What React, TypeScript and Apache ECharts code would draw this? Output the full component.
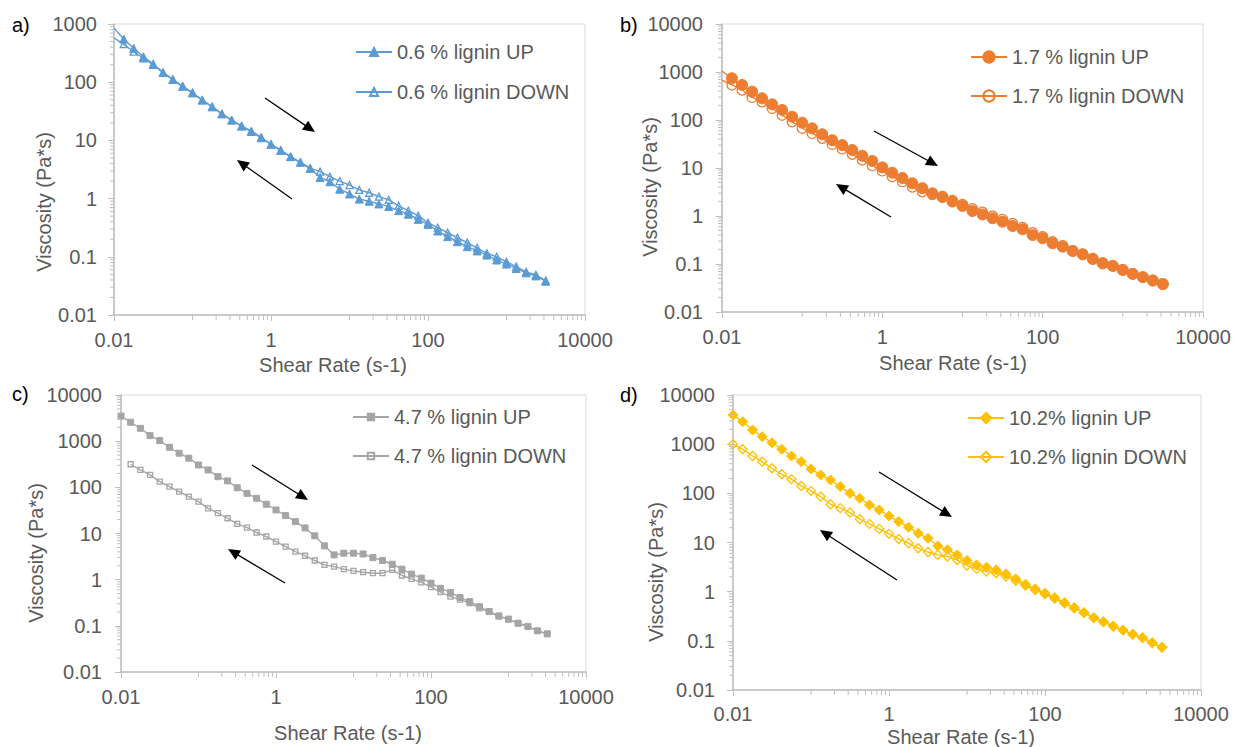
import React, { useEffect, useRef } from "react";
import * as echarts from "echarts";

// ---- data ----
const shearRate = [
  0.01, 0.0133, 0.0178, 0.0237, 0.0316, 0.0422, 0.0562, 0.075, 0.1, 0.133, 0.178, 0.237, 0.316, 0.422, 0.562, 0.75,
  1, 1.33, 1.78, 2.37, 3.16, 4.22, 5.62, 7.5, 10, 13.3, 17.8, 23.7, 31.6, 42.2, 56.2, 75,
  100, 133, 178, 237, 316, 422, 562, 750, 1000, 1330, 1780, 2370, 3160,
];

const upA = [
  850, 552, 382, 274, 206, 146, 112, 86, 66, 49.5, 38, 28.5, 22.4, 17.7, 14.5, 11.3,
  8.6, 6.8, 5.25, 4.2, 3.3, 2.3, 1.95, 1.45, 1.2, 0.98, 0.9, 0.81, 0.73, 0.62, 0.54, 0.44,
  0.36, 0.277, 0.222, 0.182, 0.149, 0.126, 0.107, 0.088, 0.075, 0.063, 0.053, 0.047, 0.038,
];
const downA = [
  575, 450, 334, 258, 198, 146, 110, 84, 65, 49, 37.5, 28.5, 22, 17.5, 14, 11,
  8.5, 6.7, 5.2, 4.2, 3.3, 2.9, 2.38, 2.0, 1.71, 1.41, 1.26, 1.08, 0.95, 0.75, 0.62, 0.51,
  0.385, 0.316, 0.26, 0.213, 0.175, 0.143, 0.115, 0.1, 0.082, 0.068, 0.055, 0.049, 0.039,
];

const upB = [
  1050, 740, 537, 390, 283, 212, 162, 117, 88, 67, 50.5, 38, 30, 23.7, 18, 14,
  10.3, 8, 6.2, 4.8, 3.8, 2.97, 2.52, 2.0, 1.62, 1.27, 1.08, 0.9, 0.76, 0.62, 0.53, 0.4,
  0.343, 0.27, 0.23, 0.186, 0.159, 0.127, 0.103, 0.091, 0.075, 0.062, 0.053, 0.045, 0.038,
];
const downB = [
  680, 537, 422, 296, 240, 174, 126, 92, 67.5, 52.5, 41.5, 31, 25, 19.3, 14.7, 11.2,
  8.7, 6.6, 5.2, 4.0, 3.2, 2.8, 2.45, 2.1, 1.75, 1.42, 1.2, 1.0, 0.85, 0.7, 0.58, 0.45,
  0.37, 0.29, 0.24, 0.19, 0.16, 0.13, 0.106, 0.092, 0.076, 0.063, 0.054, 0.046, 0.039,
];

const upC = [
  3500, 2570, 1900, 1320, 1030, 738, 548, 428, 305, 238, 170, 138, 98, 74, 58, 43,
  32.4, 24.4, 18.1, 13.2, 8.9, 5.4, 3.44, 3.74, 3.74, 3.6, 3.0, 2.6, 2.16, 1.69, 1.32, 1.08,
  0.84, 0.65, 0.53, 0.41, 0.336, 0.26, 0.204, 0.164, 0.14, 0.114, 0.097, 0.078, 0.067,
];
// DOWN sweep of panel c starts at the second shear rate
const downC = [
  316, 238, 186, 133, 104, 81, 63, 49, 35, 27.5, 21.4, 16.1, 13.4, 10.5, 8.6,
  6.7, 5.2, 4.06, 3.3, 2.6, 2.09, 1.92, 1.69, 1.55, 1.45, 1.38, 1.38, 1.63, 1.23, 1.04, 0.87,
  0.69, 0.54, 0.43, 0.37, 0.31, 0.24, 0.2, 0.16, 0.138, 0.113, 0.096, 0.078, 0.067,
];

const upD = [
  3900, 2870, 1945, 1420, 1070, 787, 575, 440, 313, 237, 187, 137, 100, 79, 58, 46,
  34.6, 26.6, 20.5, 15.4, 12.2, 8.5, 7.1, 5.6, 4.3, 3.5, 3.15, 2.77, 2.3, 1.82, 1.42, 1.14,
  0.93, 0.76, 0.6, 0.475, 0.376, 0.297, 0.246, 0.2, 0.167, 0.137, 0.117, 0.092, 0.074,
];
const downD = [
  1000, 787, 575, 440, 324, 244, 194, 141, 112, 86, 60, 50, 40.6, 29.8, 23.9, 18.9,
  15, 11.8, 9.7, 7.65, 6.4, 5.6, 5.2, 4.4, 3.4, 2.9, 2.56, 2.37, 2.03, 1.66, 1.33, 1.08,
  0.89, 0.72, 0.58, 0.46, 0.37, 0.29, 0.24, 0.196, 0.163, 0.134, 0.114, 0.09, 0.073,
];

const xTickLabels = ["0.01", "1", "100", "10000"];
const yTickLabels = ["0.01", "0.1", "1", "10", "100", "1000", "10000"];
const xMinorTicks = [
  0.1, 0.2, 0.3, 0.4, 0.5, 0.6, 0.7, 0.8, 0.9,
  10, 20, 30, 40, 50, 60, 70, 80, 90,
  1000, 2000, 3000, 4000, 5000, 6000, 7000, 8000, 9000,
];

const X_TITLE = "Shear Rate (s-1)";
const Y_TITLE = "Viscosity (Pa*s)";

// ---- layout / style per panel ----
const FONT = "Liberation Sans, Arial, sans-serif";
const TXT = "#595959";
const AXIS = "#BFBFBF";

const panels = [
  {
    letter: "a)", letterPos: [12, 25], color: "#5B9BD5", symbol: "triangle", size: 8,
    upName: "0.6 % lignin UP", downName: "0.6 % lignin DOWN",
    up: upA, down: downA, downX: shearRate, hideFirst: true, yMax: 1000,
    grid: { left: 114, top: 24, width: 471, height: 291 },
    legend: { left: 350, top: 37, gap: 20 }, xMargin: 15, yMargin: 17,
    xTitle: [333, 365], yTitle: [44, 202],
    arrows: [[265, 98, 315, 132], [292, 199, 237, 160]],
  },
  {
    letter: "b)", letterPos: [620, 25], color: "#ED7D31", symbol: "circle", size: 11,
    upName: "1.7 % lignin UP", downName: "1.7 % lignin DOWN",
    up: upB, down: downB, downX: shearRate, hideFirst: true, yMax: 10000,
    grid: { left: 722, top: 24, width: 481, height: 288 },
    legend: { left: 965, top: 42, gap: 19 }, xMargin: 15, yMargin: 19,
    xTitle: [953, 363], yTitle: [650, 187],
    arrows: [[874, 131, 938, 166], [891, 217, 836, 184]],
  },
  {
    letter: "c)", letterPos: [12, 394], color: "#A5A5A5", symbol: "rect", size: 6,
    upName: "4.7 % lignin UP", downName: "4.7 % lignin DOWN",
    up: upC, down: downC, downX: shearRate.slice(1), hideFirst: false, yMax: 10000,
    grid: { left: 121, top: 395, width: 465, height: 277 },
    legend: { left: 347, top: 402, gap: 19 }, xMargin: 15, yMargin: 19,
    xTitle: [348, 733], yTitle: [36, 553],
    arrows: [[252, 465, 308, 500], [285, 583, 228, 549]],
  },
  {
    letter: "d)", letterPos: [620, 395], color: "#FFC000", symbol: "diamond", size: 10,
    upName: "10.2% lignin UP", downName: "10.2% lignin DOWN",
    up: upD, down: downD, downX: shearRate, hideFirst: false, yMax: 10000,
    grid: { left: 733, top: 395, width: 468, height: 295 },
    legend: { left: 962, top: 403, gap: 19 }, xMargin: 14, yMargin: 18,
    xTitle: [961, 737], yTitle: [656, 572],
    arrows: [[879, 472, 952, 517], [897, 580, 820, 530]],
  },
];

function labelFor(v: number, labels: string[]) {
  let best = labels[0];
  let bd = Infinity;
  for (const l of labels) {
    const d = Math.abs(Math.log10(parseFloat(l)) - Math.log10(v));
    if (d < bd) { bd = d; best = l; }
  }
  return best;
}

function yMinorFor(yMax: number) {
  const out: number[] = [];
  for (let e = -2; Math.pow(10, e) < yMax; e++) {
    for (let m = 2; m <= 9; m++) out.push(Number((m * Math.pow(10, e)).toPrecision(3)));
  }
  return out;
}

function arrowEls(x1: number, y1: number, x2: number, y2: number) {
  const dx = x2 - x1, dy = y2 - y1;
  const len = Math.hypot(dx, dy);
  const ux = dx / len, uy = dy / len;
  const hl = 12, hw = 5.5;
  const bx = x2 - ux * hl, by = y2 - uy * hl;
  return [
    { type: "line", silent: true, shape: { x1, y1, x2: bx + ux * 2, y2: by + uy * 2 }, style: { stroke: "#000", lineWidth: 1.3 } },
    {
      type: "polygon", silent: true,
      shape: { points: [[x2, y2], [bx - uy * hw, by + ux * hw], [bx + uy * hw, by - ux * hw]] },
      style: { fill: "#000" },
    },
  ];
}

function buildOption() {
  const grid: any[] = [];
  const xAxis: any[] = [];
  const yAxis: any[] = [];
  const series: any[] = [];
  const legend: any[] = [];
  const graphic: any[] = [];

  panels.forEach((p, k) => {
    grid.push({ ...p.grid, show: true, borderColor: "#D9D9D9", borderWidth: 1, backgroundColor: "transparent" });
    xAxis.push({
      type: "log", logBase: 100, min: 0.01, max: 10000, splitNumber: 3, gridIndex: k,
      axisLine: { show: true, lineStyle: { color: AXIS, width: 1.5 } },
      axisTick: { show: true, length: 6, lineStyle: { color: AXIS } },
      splitLine: { show: false },
      axisLabel: {
        color: TXT, fontSize: 20, fontFamily: FONT, margin: p.xMargin,
        showMinLabel: true, showMaxLabel: true,
        formatter: (v: number) => labelFor(v, xTickLabels),
      },
    });
    yAxis.push({
      type: "log", logBase: 10, min: 0.01, max: p.yMax, splitNumber: Math.round(Math.log10(p.yMax / 0.01)), gridIndex: k,
      axisLine: { show: true, lineStyle: { color: AXIS, width: 1.5 } },
      axisTick: { show: true, length: 6, lineStyle: { color: AXIS } },
      splitLine: { show: false },
      axisLabel: {
        color: TXT, fontSize: 20, fontFamily: FONT, margin: p.yMargin,
        showMinLabel: true, showMaxLabel: true,
        formatter: (v: number) => labelFor(v, yTickLabels),
      },
    });

    const upData = p.up.map((v, i) =>
      p.hideFirst && i === 0 ? { value: [shearRate[i], v], symbol: "none" } : [shearRate[i], v]
    );
    const downData = p.down.map((v, i) =>
      p.hideFirst && i === 0 ? { value: [p.downX[i], v], symbol: "none" } : [p.downX[i], v]
    );
    series.push({
      type: "line", name: p.upName, xAxisIndex: k, yAxisIndex: k, data: upData,
      symbol: p.symbol, symbolSize: p.size, showAllSymbol: true,
      lineStyle: { color: p.color, width: 1.4 },
      itemStyle: { color: p.color, borderColor: p.color, borderWidth: 1 },
      z: 3,
    });
    // hollow markers without fill (transparent, as in the spreadsheet chart)
    series.push({
      type: "line", name: p.downName, xAxisIndex: k, yAxisIndex: k, data: downData,
      symbol: p.symbol, symbolSize: p.size - 1, showAllSymbol: true,
      lineStyle: { color: p.color, width: 1.4 },
      itemStyle: { color: "rgba(255,255,255,0)", borderColor: p.color, borderWidth: 1.3 },
      z: 4,
    });

    // minor ticks of the log axes
    series.push({
      type: "custom", xAxisIndex: k, yAxisIndex: k, silent: true, clip: false, z: 5,
      data: xMinorTicks.map((v) => [v, 0.01]),
      renderItem: (params: any, api: any) => {
        const pt = api.coord([api.value(0), api.value(1)]);
        return { type: "line", shape: { x1: pt[0], y1: pt[1], x2: pt[0], y2: pt[1] + 5 }, style: { stroke: AXIS, lineWidth: 1 } };
      },
    });
    series.push({
      type: "custom", xAxisIndex: k, yAxisIndex: k, silent: true, clip: false, z: 5,
      data: yMinorFor(p.yMax).map((v) => [0.01, v]),
      renderItem: (params: any, api: any) => {
        const pt = api.coord([api.value(0), api.value(1)]);
        return { type: "line", shape: { x1: pt[0] - 4, y1: pt[1], x2: pt[0], y2: pt[1] }, style: { stroke: AXIS, lineWidth: 1 } };
      },
    });

    legend.push({
      orient: "vertical", left: p.legend.left, top: p.legend.top, itemGap: p.legend.gap,
      itemWidth: 36, itemHeight: Math.round(p.size * 1.25), data: [p.upName, p.downName],
      textStyle: { color: TXT, fontSize: 20, fontFamily: FONT }, selectedMode: false,
    });

    graphic.push({
      type: "text", x: p.letterPos[0], y: p.letterPos[1], silent: true,
      style: { text: p.letter, fill: "#000", fontSize: 20, fontFamily: FONT, align: "left", verticalAlign: "middle" },
    });
    graphic.push({
      type: "text", x: p.xTitle[0], y: p.xTitle[1], silent: true,
      style: { text: X_TITLE, fill: TXT, fontSize: 20, fontFamily: FONT, align: "center", verticalAlign: "middle" },
    });
    graphic.push({
      type: "text", x: p.yTitle[0], y: p.yTitle[1], rotation: Math.PI / 2, silent: true,
      style: { text: Y_TITLE, fill: TXT, fontSize: 20, fontFamily: FONT, align: "center", verticalAlign: "middle" },
    });
    p.arrows.forEach((a) => graphic.push(...arrowEls(a[0], a[1], a[2], a[3])));
  });

  return {
    animation: false,
    backgroundColor: "#ffffff",
    textStyle: { fontFamily: FONT },
    grid, xAxis, yAxis, series, legend, graphic,
  };
}

export default function App() {
  const ref = useRef<HTMLDivElement>(null);
  useEffect(() => {
    if (!ref.current) return;
    const chart = echarts.init(ref.current, undefined, { renderer: "svg" });
    chart.setOption(buildOption() as any);
    return () => chart.dispose();
  }, []);
  return (
    <div
      ref={ref}
      style={{ position: "fixed", left: 0, top: 0, width: 1237, height: 747, background: "#fff" }}
    />
  );
}
